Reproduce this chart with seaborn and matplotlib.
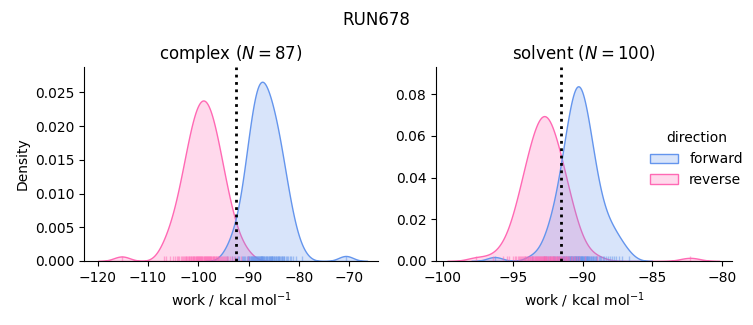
import matplotlib
matplotlib.use("Agg")
import matplotlib.pyplot as plt
import pandas as pd
import seaborn as sns

# ---- data (work values, kcal/mol) ----
complex_forward = [
    -94.3, -93.3, -92.7, -92.2,
    -91.85, -91.35, -91.1,
    -90.9, -90.7, -90.4, -90.2, -90.05,
    -89.95, -89.85, -89.7, -89.6, -89.5, -89.4, -89.3, -89.15, -89.05,
    -88.95, -88.85, -88.75, -88.65, -88.55, -88.45, -88.35, -88.25, -88.15, -88.05,
    -87.95, -87.85, -87.75, -87.65, -87.55, -87.5, -87.45, -87.4, -87.35, -87.25,
    -87.15, -87.05,
    -86.95, -86.85, -86.7, -86.6, -86.5, -86.4, -86.3, -86.15, -86.05,
    -85.95, -85.85, -85.7, -85.6, -85.5, -85.45, -85.4, -85.3, -85.15, -85.05,
    -84.9, -84.8, -84.65, -84.5, -84.4, -84.25, -84.15, -84.05,
    -83.9, -83.75, -83.6, -83.45, -83.3, -83.15, -83.05,
    -82.9, -82.6, -82.3, -82.1,
    -81.8, -81.5, -81.2, -80.6, -79.4, -70.7,
]
complex_reverse = [
    -115.2, -106.9, -106.4, -105.7, -105.1, -104.7, -104.3, -104.0, -103.8, -103.5,
    -103.3, -103.1, -102.9, -102.7, -102.5, -102.4, -102.2, -102.0, -101.9, -101.8,
    -101.6, -101.5, -101.4, -101.2, -101.1, -101.0, -100.9, -100.8, -100.6, -100.5,
    -100.4, -100.3, -100.2, -100.1, -100.0, -99.9, -99.8, -99.7, -99.6, -99.5,
    -99.4, -99.3, -99.2, -99.1, -98.9, -98.8, -98.7, -98.6, -98.5, -98.4,
    -98.3, -98.2, -98.1, -98.0, -97.9, -97.8, -97.7, -97.6, -97.5, -97.4,
    -97.2, -97.1, -97.0, -96.9, -96.8, -96.6, -96.5, -96.4, -96.2, -96.1,
    -96.0, -95.8, -95.6, -95.5, -95.3, -95.1, -94.9, -94.7, -94.5, -94.2,
    -94.0, -93.7, -93.3, -92.9, -92.3, -91.6, -90.2,
]
solvent_forward = [
    -96.3, -93.6, -92.8, -92.6, -92.45, -92.3, -92.15, -92.05,
    -91.95, -91.85, -91.75, -91.7, -91.6, -91.55,
    -91.48, -91.43, -91.39, -91.34, -91.3, -91.25, -91.2, -91.16, -91.11, -91.06, -91.02,
    -90.98, -90.95, -90.92, -90.89, -90.86, -90.83, -90.8, -90.77, -90.73, -90.7,
    -90.67, -90.64, -90.61, -90.58, -90.55, -90.52,
    -90.49, -90.46, -90.44, -90.41, -90.39, -90.36, -90.33, -90.31, -90.28, -90.26,
    -90.23, -90.2, -90.18, -90.15, -90.12, -90.1, -90.07, -90.05, -90.02,
    -89.98, -89.95, -89.91, -89.88, -89.85, -89.81, -89.78, -89.75, -89.71, -89.68,
    -89.65, -89.61, -89.58, -89.55, -89.52,
    -89.47, -89.42, -89.37, -89.32, -89.27, -89.22, -89.17, -89.12, -89.07, -89.02,
    -88.95, -88.85, -88.75, -88.65, -88.55,
    -88.45, -88.32, -88.2, -88.07,
    -87.92, -87.75, -87.58, -87.4, -87.15, -86.7,
]
solvent_reverse = [
    -97.6, -96.4, -95.7, -95.4, -95.25, -92.75,
    -94.95, -94.85, -94.75, -94.65, -94.55,
    -94.47, -94.41, -94.35, -94.28, -94.22, -94.16, -94.1, -94.04,
    -93.98, -93.93, -93.89, -93.84, -93.8, -93.75, -93.7, -93.66, -93.61, -93.57, -93.52,
    -93.48, -93.44, -93.4, -93.36, -93.33, -93.29, -93.25, -93.21, -93.17, -93.14,
    -93.1, -93.06, -93.02,
    -92.98, -92.95, -92.91, -92.88, -92.84, -92.81, -92.77, -92.74, -92.7, -92.67,
    -92.63, -92.6, -92.56, -92.53,
    -92.48, -92.44, -92.4, -92.36, -92.33, -92.29, -92.25, -92.21, -92.17, -92.14,
    -92.1, -92.06, -92.02,
    -91.98, -91.93, -91.89, -91.84, -91.8, -91.75, -91.7, -91.66, -91.61, -91.57, -91.52,
    -91.47, -91.41, -91.35, -91.28, -91.22, -91.16, -91.1, -91.04,
    -90.95, -90.85, -90.75, -90.65, -90.55,
    -90.4, -90.25, -92.7, -89.8, -89.0, -82.3,
]
phases = ["complex", "solvent"]
directions = ["forward", "reverse"]
estimates = {"complex": -92.5, "solvent": -91.55}
run_name = "RUN678"

frames = []
for phase, fwd, rev in [("complex", complex_forward, complex_reverse),
                        ("solvent", solvent_forward, solvent_reverse)]:
    frames.append(pd.DataFrame({"work": fwd, "direction": "forward", "phase": phase}))
    frames.append(pd.DataFrame({"work": rev, "direction": "reverse", "phase": phase}))
df = pd.concat(frames, ignore_index=True)
n_counts = {"complex": len(complex_forward), "solvent": len(solvent_forward)}

g = sns.displot(
    data=df, x="work", hue="direction", col="phase", kind="kde",
    fill=True, rug=True, hue_order=directions, col_order=phases,
    palette={"forward": "cornflowerblue", "reverse": "hotpink"},
    rug_kws=dict(alpha=0.5, height=0.028),
    facet_kws=dict(sharex=False, sharey=False), height=3, aspect=1,
)
fig = g.figure
fig.set_size_inches(7.53, 3.25)
fig.set_dpi(100)

W, H = 753, 325
boxes = {"complex": (84, 378), "solvent": (436, 732)}
xlims = {"complex": (-122.7, -64.3), "solvent": (-100.5, -79.3)}
ylims = {"complex": (0, 0.02875), "solvent": (0, 0.0931)}
for ax, phase in zip(g.axes.flat, phases):
    l, r = boxes[phase]
    ax.set_position([l / W, 1 - 261 / H, (r - l) / W, (261 - 67) / H])
    ax.set_xlim(*xlims[phase])
    ax.set_ylim(*ylims[phase])
    ax.axvline(estimates[phase], color="black", ls=":", lw=2)
    ax.set_title(f"{phase} ($N = {n_counts[phase]}$)", fontsize=12)
    ax.set_xlabel("work / kcal mol$^{-1}$")
g.axes.flat[0].set_ylabel("Density")
g.axes.flat[1].set_ylabel("")

sns.move_legend(g, "center", bbox_to_anchor=(0.925, 0.51), frameon=False)
fig.suptitle(run_name, y=0.965, fontsize=12)

fig.savefig("out.png", dpi=100)
